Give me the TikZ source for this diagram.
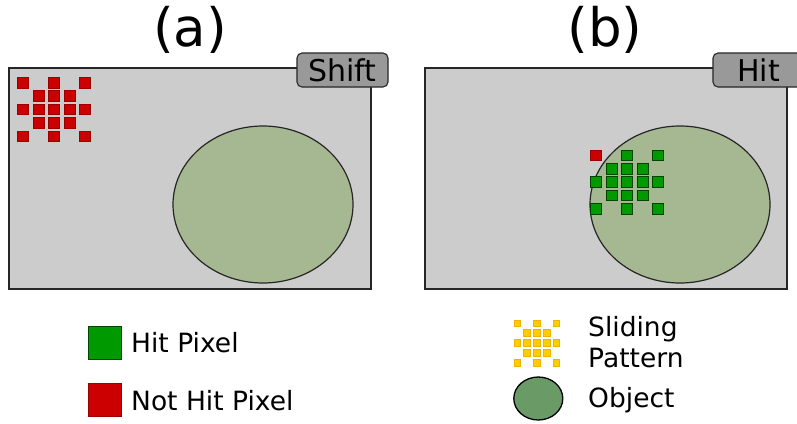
\documentclass[tikz,border=0pt]{standalone}
\usepackage{fontspec}
\setmainfont{DejaVu Sans}
\definecolor{panelgray}{HTML}{CCCCCC}
\definecolor{tabgray}{HTML}{999999}
\definecolor{objfill}{HTML}{A5B891}
\definecolor{objleg}{HTML}{6A9A66}
\definecolor{hitgreen}{HTML}{009900}
\definecolor{hitborder}{HTML}{004400}
\definecolor{missred}{HTML}{CC0000}
\definecolor{missborder}{HTML}{990000}
\definecolor{slidefill}{HTML}{FFCC00}
\definecolor{slideborder}{HTML}{F0B400}
\begin{document}
\begin{tikzpicture}[x=1pt,y=-1pt,
  panel/.style={draw=black!85,line width=1.3pt,fill=panelgray},
  tabbox/.style={draw=black!85,line width=1.1pt,fill=tabgray,rounded corners=5pt},
  obj/.style={draw=black!85,line width=1.2pt,fill=objfill},
  hitpx/.style={draw=hitborder,fill=hitgreen,line width=1pt},
  misspx/.style={draw=missborder,fill=missred,line width=1pt},
  slidepx/.style={draw=slideborder,fill=slidefill,line width=1pt},
  title/.style={font=\fontsize{53}{60}\selectfont,inner sep=0pt},
  tablabel/.style={font=\fontsize{30}{34}\selectfont,inner sep=0pt},
  legtext/.style={font=\fontsize{26.5}{31}\selectfont,inner sep=0pt,anchor=west,align=left}]
\useasboundingbox (0,0) rectangle (797,423);

% titles
\node[title] (ta) at (190,30) {(a)};
\node[title] (tb) at (605,30) {(b)};

% panel a
\draw[panel] (9,68) rectangle (371,289);
\draw[obj] (263,204.5) ellipse [x radius=90,y radius=78.5];
\draw[tabbox] (297,53) rectangle (388,87);
\node[tablabel] (shift) at (342.5,70.5) {Shift};
\foreach \c/\r in {0/0,2/0,4/0,1/1,2/1,3/1,0/2,1/2,2/2,3/2,4/2,1/3,2/3,3/3,0/4,2/4,4/4}{
  \draw[misspx] ({23.2+15.5*\c-5.5},{82.7+13.4*\r-5.3}) rectangle ++(11,10.6);
}

% panel b
\draw[panel] (425,68) rectangle (787,289);
\draw[obj] (680,204.5) ellipse [x radius=90,y radius=78.5];
\draw[tabbox] (713,53) rectangle (806,87);
\node[tablabel] (hit) at (758.5,70.5) {Hit};
\foreach \c/\r in {2/0,4/0,1/1,2/1,3/1,0/2,1/2,2/2,3/2,4/2,1/3,2/3,3/3,0/4,2/4,4/4}{
  \draw[hitpx] ({596.3+15.5*\c-5.5},{155.3+13.4*\r-5.3}) rectangle ++(11,10.6);
}
\draw[misspx] ({596.3-5.5},{155.3-5.3}) rectangle ++(11,10.6);

% legend left
\draw[hitpx] (88.5,326.2) rectangle (121.5,359.2);
\node[legtext] (lhit) at (131,343) {Hit Pixel};
\draw[misspx] (88.5,383.5) rectangle (121.5,416.5);
\node[legtext] (lmiss) at (131,401) {Not Hit Pixel};

% legend right
\foreach \c/\r in {0/0,2/0,4/0,1/1,2/1,3/1,0/2,1/2,2/2,3/2,4/2,1/3,2/3,3/3,0/4,2/4,4/4}{
  \draw[slidepx] ({517.3+9.8*\c-3.3},{323.3+9.85*\r-3.3}) rectangle ++(6.6,6.6);
}
\node[legtext] (lslide) at (588,342) {Sliding\\Pattern};
\draw[draw=black,line width=1.3pt,fill=objleg] (538.3,398.5) ellipse [x radius=24.5,y radius=21.5];
\node[legtext] (lobj) at (588,400) {Object};
\end{tikzpicture}
\end{document}
